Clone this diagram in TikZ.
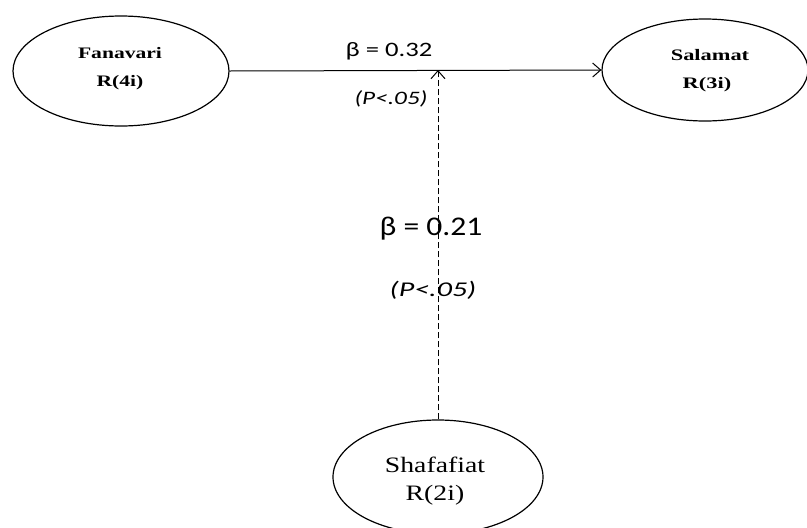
\documentclass[tikz,border=0pt]{standalone}
\usepackage{fontspec}
\usepackage{graphicx}
\setmainfont{Liberation Serif}
\newfontfamily\calib{Carlito}
\usetikzlibrary{arrows.meta,shapes.geometric}
\tikzset{
  var/.style={draw, ellipse, line width=1.2pt, inner sep=0pt},
  txt/.style={inner sep=0pt, anchor=base},
  conn/.style={line width=1pt, -{Straight Barb[length=8pt,width=14pt,line width=1pt]}},
}
\newcommand{\sx}[2]{\scalebox{#1}[1]{#2}}
\begin{document}
\begin{tikzpicture}[x=1pt,y=-1pt]
\useasboundingbox (0,0) rectangle (807,528);
\clip (0,0) rectangle (807,528);
\node[var, minimum width=216pt, minimum height=110pt] (fan) at (121,71) {};
\node[txt, font=\bfseries\fontsize{16}{16}\selectfont] (fan1) at (120,58) {\sx{1.35}{Fanavari}};
\node[txt, font=\bfseries\fontsize{16}{16}\selectfont] (fan2) at (120,86) {\sx{1.35}{R(4i)}};
\node[var, minimum width=206pt, minimum height=102pt] (sal) at (705,70) {};
\node[txt, font=\bfseries\fontsize{16}{16}\selectfont] (sal1) at (710,60) {\sx{1.4}{Salamat}};
\node[txt, font=\bfseries\fontsize{16}{16}\selectfont] (sal2) at (707,88) {\sx{1.4}{R(3i)}};
\node[var, minimum width=210pt, minimum height=114pt] (sha) at (438,477) {};
\node[txt, font=\fontsize{22}{22}\selectfont] (sha1) at (435,472) {\sx{1.26}{Shafafiat}};
\node[txt, font=\fontsize{22}{22}\selectfont] (sha2) at (435,500) {\sx{1.26}{R(2i)}};
\coordinate (meet) at (438,70);
\draw[conn] (fan.east) -- (sal.west);
\draw[conn, dash pattern=on 6pt off 3pt, line width=0.8pt] (sha.north) -- (meet);
\node[txt, font=\calib\fontsize{20.5}{20.5}\selectfont] (b1) at (389,56) {\sx{1.3}{β = 0.32}};
\node[txt, font=\calib\itshape\fontsize{19}{19}\selectfont] (p1) at (391,104) {\sx{1.33}{(P<.05)}};
\node[txt, font=\calib\fontsize{27}{27}\selectfont] (b2) at (431,235) {\sx{1.17}{β = 0.21}};
\node[txt, font=\calib\itshape\fontsize{21}{21}\selectfont] (p2) at (433,296) {\sx{1.43}{(P<.05)}};
\end{tikzpicture}
\end{document}
